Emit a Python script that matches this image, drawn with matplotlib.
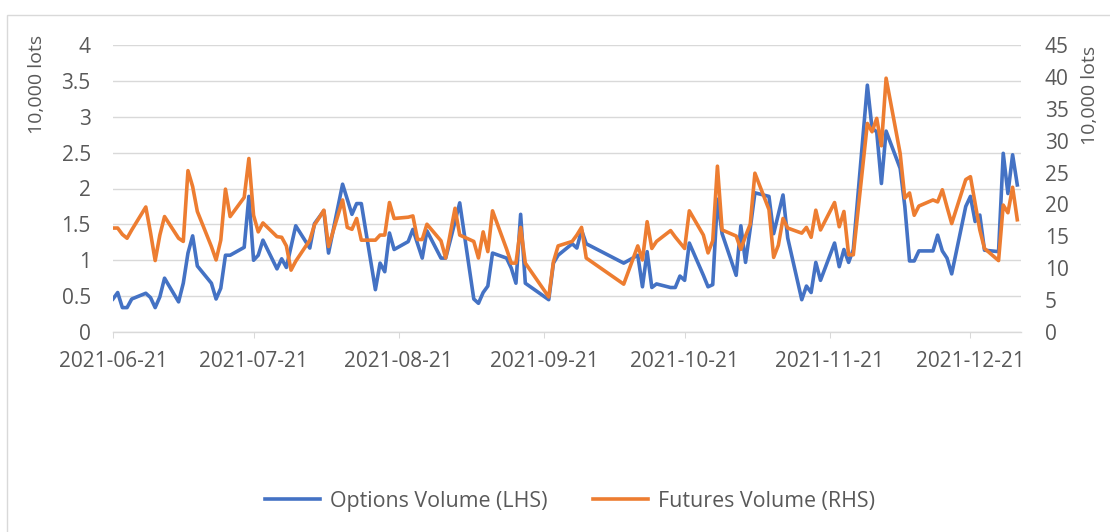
import matplotlib
matplotlib.use("Agg")
import numpy as np
import pandas as pd
import matplotlib.pyplot as plt
import matplotlib.dates as mdates
from matplotlib.patches import Rectangle
from matplotlib.lines import Line2D

plt.rcParams['font.family'] = ['Open Sans', 'DejaVu Sans']

# ------------------------------
# Data (10,000 lots), one value per trading day
# ------------------------------

holidays = ["2021-09-20", "2021-09-21", "2021-10-01", "2021-10-04",
            "2021-10-05", "2021-10-06", "2021-10-07"]
dates = pd.bdate_range("2021-06-21", "2021-12-31")
dates = dates[~dates.isin(pd.to_datetime(holidays))]

options_jun = [0.46, 0.55, 0.34, 0.34, 0.46, 0.54, 0.48, 0.34]
options_jul = [0.49, 0.75, 0.42, 0.68, 1.10, 1.34, 0.92, 0.68, 0.46, 0.61, 1.07,
               1.07, 1.18, 1.89, 1.00, 1.07, 1.28, 0.88, 1.02, 0.90, 1.19, 1.48]
options_aug = [1.17, 1.51, 1.60, 1.69, 1.10, 2.06, 1.85, 1.64, 1.79, 1.79, 0.59,
               0.96, 0.84, 1.38, 1.15, 1.26, 1.43, 1.23, 1.03, 1.41, 1.03, 1.03]
options_sep = [1.28, 1.54, 1.80, 0.46, 0.40, 0.55, 0.64, 1.10, 1.03, 0.89, 0.68,
               1.64, 0.68, 0.45, 0.96, 1.07, 1.23, 1.17, 1.42, 1.23]
options_oct = [0.96, 1.07, 0.63, 1.12, 0.62, 0.67, 0.62, 0.62, 0.78, 0.72, 1.24,
               0.79, 0.63, 0.66, 1.85, 1.37]
options_nov = [0.79, 1.48, 0.97, 1.44, 1.94, 1.89, 1.37, 1.64, 1.91, 1.31, 0.45,
               0.64, 0.55, 0.97, 0.72, 1.24, 0.91, 1.15, 0.97, 1.15, 3.44, 2.84]
options_dec = [2.79, 2.07, 2.80, 2.28, 1.75, 0.99, 0.99, 1.13, 1.13, 1.35, 1.13,
               1.03, 0.81, 1.75, 1.89, 1.54, 1.63, 1.14, 1.12, 2.49, 1.93, 2.47, 2.05]

futures_jun = [16.3, 16.3, 15.3, 14.7, 16.0, 19.6, 15.6, 11.2]
futures_jul = [15.2, 18.1, 14.7, 14.2, 25.3, 22.8, 18.9, 13.4, 11.3, 14.4, 22.4,
               18.1, 21.1, 27.2, 18.3, 15.7, 17.1, 14.95, 14.85, 13.5, 9.7, 11.1]
futures_aug = [14.4, 16.8, 17.9, 19.1, 13.4, 20.7, 16.4, 16.1, 17.8, 14.4, 14.4,
               15.2, 15.2, 20.3, 17.8, 18.0, 18.2, 14.5, 14.5, 16.9, 14.3, 11.6]
futures_sep = [15.5, 19.4, 15.2, 14.2, 11.6, 15.7, 12.6, 19.0, 13.0, 10.8, 10.8,
               16.4, 10.8, 5.5, 11.0, 13.5, 14.2, 15.2, 16.4, 11.6]
futures_oct = [7.5, 13.5, 11.3, 17.3, 13.1, 14.2, 15.9, 14.9, 14.0, 13.1, 19.0,
               15.2, 12.4, 14.3, 26.0, 16.0]
futures_nov = [15.05, 12.96, 15.05, 16.9, 24.9, 19.2, 11.7, 13.6, 17.8, 16.3, 15.5,
               16.4, 14.85, 19.1, 16.0, 20.3, 16.5, 18.9, 12.1, 12.1, 32.7, 31.4]
futures_dec = [33.5, 29.2, 39.8, 28.0, 21.0, 21.8, 18.3, 19.75, 20.7, 20.4, 22.3,
               19.6, 17.0, 23.9, 24.35, 20.2, 16.0, 13.1, 11.2, 19.9, 18.7, 22.7, 17.6]

options = (options_jun + options_jul + options_aug + options_sep
           + options_oct + options_nov + options_dec)
futures = (futures_jun + futures_jul + futures_aug + futures_sep
           + futures_oct + futures_nov + futures_dec)

left_ticks = [0, 0.5, 1, 1.5, 2, 2.5, 3, 3.5, 4]
left_labels = ["0", "0.5", "1", "1.5", "2", "2.5", "3", "3.5", "4"]
right_ticks = [0, 5, 10, 15, 20, 25, 30, 35, 40, 45]
x_ticks = ["2021-06-21", "2021-07-21", "2021-08-21", "2021-09-21",
           "2021-10-21", "2021-11-21", "2021-12-21"]

# ------------------------------
# Plot
# ------------------------------

BLUE = "#4472C4"
ORANGE = "#ED7D31"
TEXT = "#595959"
GRID = "#D9D9D9"

W, H = 1110, 532
fig = plt.figure(figsize=(W / 100, H / 100), dpi=100)
ax = fig.add_axes([113 / W, 1 - 332 / H, (1021 - 113) / W, (332 - 45) / H])
ax2 = ax.twinx()

ax.plot(dates, options, color=BLUE, lw=2.6, solid_joinstyle="round")
ax2.plot(dates, futures, color=ORANGE, lw=2.6, solid_joinstyle="round")

ax.set_xlim(pd.Timestamp("2021-06-21"), pd.Timestamp("2021-12-31") + pd.Timedelta(hours=19))
ax.set_xticks(pd.to_datetime(x_ticks))
ax.xaxis.set_major_formatter(mdates.DateFormatter("%Y-%m-%d"))

ax.set_ylim(0, 4)
ax.set_yticks(left_ticks)
ax.set_yticklabels(left_labels)
ax2.set_ylim(0, 45)
ax2.set_yticks(right_ticks)

ax.grid(axis="y", color=GRID, lw=1)
ax.set_axisbelow(True)

for s in ["top", "left", "right"]:
    ax.spines[s].set_visible(False)
for s in ax2.spines.values():
    s.set_visible(False)
ax.spines["bottom"].set_color(GRID)
ax.spines["bottom"].set_linewidth(1)

ax.tick_params(axis="y", length=0, pad=16, labelsize=15, labelcolor=TEXT)
ax2.tick_params(axis="y", length=0, pad=17, labelsize=15, labelcolor=TEXT)
ax.tick_params(axis="x", length=4, width=0.75, color=GRID, pad=10,
               labelsize=15, labelcolor=TEXT)

fig.text(37 / W, 1 - 84 / H, "10,000 lots", rotation=90, ha="center",
         va="center", fontsize=14, color=TEXT)
fig.text(1090 / W, 1 - 95 / H, "10,000 lots", rotation=90, ha="center",
         va="center", fontsize=14, color=TEXT)

handles = [Line2D([], [], color=BLUE, lw=2.6),
           Line2D([], [], color=ORANGE, lw=2.6)]
leg = fig.legend(handles, ["Options Volume (LHS)", "Futures Volume (RHS)"],
                 loc="center", bbox_to_anchor=(570 / W, 1 - 501 / H), ncol=2,
                 frameon=False, fontsize=15.4, handlelength=2.6,
                 handletextpad=0.46, columnspacing=2.1)
for t in leg.get_texts():
    t.set_color(TEXT)

fig.patches.append(Rectangle((7 / W, -0.1), 1.2, 1.1 - 15 / H,
                             transform=fig.transFigure, fill=False,
                             edgecolor=GRID, lw=1))

fig.savefig("out.png", dpi=100)
